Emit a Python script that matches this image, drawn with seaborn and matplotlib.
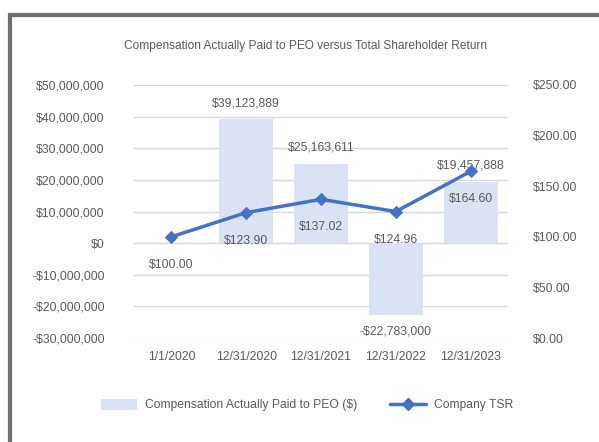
import matplotlib
matplotlib.use("Agg")
import matplotlib.pyplot as plt
import seaborn as sns
import numpy as np
import pandas as pd
from matplotlib.patches import Rectangle
from matplotlib.lines import Line2D
from matplotlib.patches import Patch

categories = ["1/1/2020", "12/31/2020", "12/31/2021", "12/31/2022", "12/31/2023"]
cap_values = [0, 39123889, 25163611, -22783000, 19457888]
cap_labels = ["", "$39,123,889", "$25,163,611", "-$22,783,000", "$19,457,888"]
tsr_values = [100.00, 123.90, 137.02, 124.96, 164.60]
left_ticks = [50e6, 40e6, 30e6, 20e6, 10e6, 0, -10e6, -20e6, -30e6]
right_ticks = [0, 50, 100, 150, 200, 250]

sns.set_theme(style="white")
plt.rcParams["font.family"] = ["Liberation Sans", "DejaVu Sans"]
TXT = "#595959"
BAR = "#dae3f3"
LINE = "#4472c4"
FS = 8.8

df = pd.DataFrame({"date": categories, "cap": cap_values})

fig = plt.figure(figsize=(5.99, 4.42), dpi=100)
ax = fig.add_axes([134/599, 1-338/442, (508-134)/599, (338-85)/442])

# frame around the chart
fig.patches.append(Rectangle((10/599, -0.1), 1.2, 1-15/442+0.1, transform=fig.transFigure,
                             fill=False, edgecolor="#6e6e6e", linewidth=3, zorder=0))

sns.barplot(data=df, x="date", y="cap", ax=ax, color=BAR, width=0.72, saturation=1,
            linewidth=0, edgecolor="none", zorder=2)
ax.set_ylim(-30e6, 50e6)
ax.set_yticks(left_ticks)
ax.set_yticklabels([("-$" if v < 0 else "$") + f"{abs(int(v)):,}" for v in left_ticks])
ax.yaxis.grid(True, color="#d9d9d9", linewidth=1)
ax.set_axisbelow(True)
for s in ax.spines.values():
    s.set_visible(False)
ax.set_xlabel("")
ax.set_ylabel("")
ax.tick_params(axis="y", length=0, pad=21, labelsize=FS, labelcolor=TXT)
ax.tick_params(axis="x", length=0, pad=9, labelsize=FS, labelcolor=TXT)
ax.set_xlim(-0.5, 4.5)

for i, (v, lab) in enumerate(zip(cap_values, cap_labels)):
    if not lab:
        continue
    off = 16 if v >= 0 else -16
    ax.annotate(lab, (i, v), xytext=(0, off), textcoords="offset pixels",
                ha="center", va="center", fontsize=FS, color=TXT)

ax2 = ax.twinx()
sns.lineplot(x=np.arange(len(tsr_values)), y=tsr_values, ax=ax2, color=LINE, linewidth=2.5,
             marker="D", markersize=5.8, markeredgecolor=LINE, zorder=5)
ax2.set_ylim(0, 250)
ax2.set_yticks(right_ticks)
ax2.set_yticklabels([f"${v:.2f}" for v in right_ticks])
ax2.tick_params(axis="y", length=0, pad=18, labelsize=FS, labelcolor=TXT)
for s in ax2.spines.values():
    s.set_visible(False)
ax2.grid(False)
ax2.set_ylabel("")
for i, v in enumerate(tsr_values):
    ax2.annotate(f"${v:.2f}", (i, v), xytext=(0, -28), textcoords="offset pixels",
                 ha="center", va="center", fontsize=FS, color=TXT)
ax2.set_xlim(-0.5, 4.5)

fig.text(306/599, 1-46/442, "Compensation Actually Paid to PEO versus Total Shareholder Return",
         ha="center", va="center", fontsize=8.6, color=TXT)

handles = [Patch(facecolor=BAR, edgecolor="none", label="Compensation Actually Paid to PEO ($)"),
           Line2D([0], [0], color=LINE, linewidth=2.5, marker="D", markersize=5.8, label="Company TSR")]
fig.legend(handles=handles, loc="center", bbox_to_anchor=(307/599, 1-405/442), ncol=2,
           frameon=False, fontsize=8.7, labelcolor=TXT, handlelength=3.0, columnspacing=2.7,
           handletextpad=0.66, handleheight=1.1)

fig.savefig("out.png", dpi=100)
